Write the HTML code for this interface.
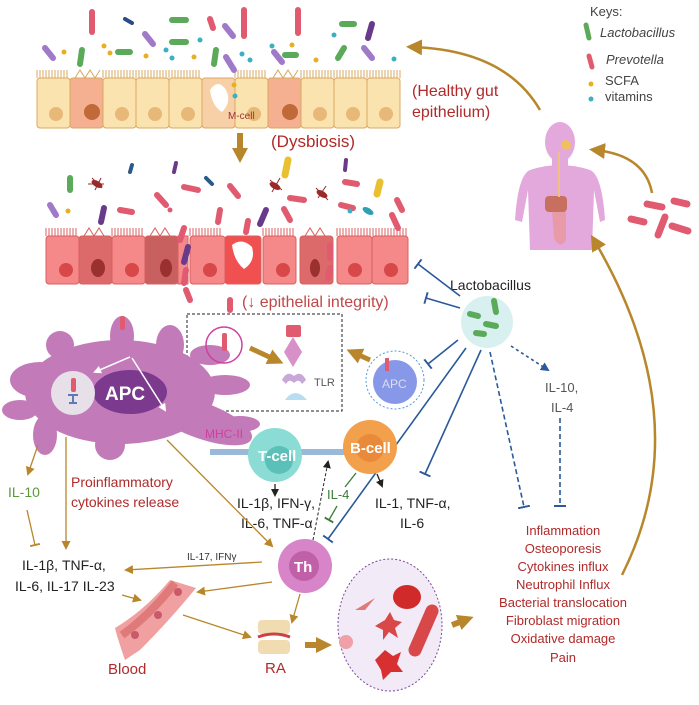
<!DOCTYPE html>
<html><head><meta charset="utf-8"><style>
html,body{margin:0;padding:0;background:#fff;}
svg{display:block;font-family:"Liberation Sans Narrow","Liberation Sans",sans-serif;}
</style></head><body>
<svg width="699" height="705" viewBox="0 0 699 705" xmlns="http://www.w3.org/2000/svg">
<defs>
<marker id="ab" markerUnits="userSpaceOnUse" markerWidth="9" markerHeight="9" refX="7" refY="4.5" orient="auto"><path d="M0,0 L9,4.5 L0,9 Z" fill="#b8862b"/></marker>
<marker id="abig" markerUnits="userSpaceOnUse" markerWidth="16" markerHeight="16" refX="10" refY="8" orient="auto"><path d="M0,0 L16,8 L0,16 Z" fill="#b8862b"/></marker>
<marker id="ak" markerUnits="userSpaceOnUse" markerWidth="8" markerHeight="8" refX="6" refY="4" orient="auto"><path d="M0,0 L8,4 L0,8 Z" fill="#222"/></marker>
<marker id="abl" markerUnits="userSpaceOnUse" markerWidth="9" markerHeight="9" refX="7" refY="4.5" orient="auto"><path d="M0,0 L9,4.5 L0,9 Z" fill="#2a5a9a"/></marker>
<marker id="tb" markerUnits="userSpaceOnUse" markerWidth="2" markerHeight="12" refX="1" refY="6" orient="auto"><rect x="0" y="0" width="2" height="12" fill="#2a5a9a"/></marker>
<marker id="tg" markerUnits="userSpaceOnUse" markerWidth="2" markerHeight="10" refX="1" refY="5" orient="auto"><rect x="0" y="0" width="2" height="10" fill="#3a7a3a"/></marker>
<marker id="tbr" markerUnits="userSpaceOnUse" markerWidth="2" markerHeight="10" refX="1" refY="5" orient="auto"><rect x="0" y="0" width="2" height="10" fill="#b8862b"/></marker>
<marker id="aw" markerUnits="userSpaceOnUse" markerWidth="8" markerHeight="8" refX="6" refY="4" orient="auto"><path d="M0,0 L8,4 L0,8 Z" fill="#fff"/></marker>
</defs>

<!-- top epithelium -->
<g stroke="#d9a860" stroke-width="1">
<rect x="37" y="78" width="33" height="50" rx="3" fill="#fbe3b0"/>
<rect x="70" y="78" width="33" height="50" rx="3" fill="#f4b090"/>
<rect x="103" y="78" width="33" height="50" rx="3" fill="#fbe3b0"/>
<rect x="136" y="78" width="33" height="50" rx="3" fill="#fbe3b0"/>
<rect x="169" y="78" width="33" height="50" rx="3" fill="#fbe3b0"/>
<rect x="202" y="78" width="33" height="50" rx="3" fill="#f8d0a8"/>
<rect x="235" y="78" width="33" height="50" rx="3" fill="#fbe3b0"/>
<rect x="268" y="78" width="33" height="50" rx="3" fill="#f4b090"/>
<rect x="301" y="78" width="33" height="50" rx="3" fill="#fbe3b0"/>
<rect x="334" y="78" width="33" height="50" rx="3" fill="#fbe3b0"/>
<rect x="367" y="78" width="33" height="50" rx="3" fill="#fbe3b0"/>
</g>
<path d="M37,78 V70 M40,78 V70 M43,78 V70 M46,78 V70 M49,78 V70 M52,78 V70 M55,78 V70 M58,78 V70 M61,78 V70 M64,78 V70 M67,78 V70 M103,78 V70 M106,78 V70 M109,78 V70 M112,78 V70 M115,78 V70 M118,78 V70 M121,78 V70 M124,78 V70 M127,78 V70 M130,78 V70 M133,78 V70 M136,78 V70 M139,78 V70 M142,78 V70 M145,78 V70 M148,78 V70 M151,78 V70 M154,78 V70 M157,78 V70 M160,78 V70 M163,78 V70 M166,78 V70 M169,78 V70 M172,78 V70 M175,78 V70 M178,78 V70 M181,78 V70 M184,78 V70 M187,78 V70 M190,78 V70 M193,78 V70 M196,78 V70 M199,78 V70 M235,78 V70 M238,78 V70 M241,78 V70 M244,78 V70 M247,78 V70 M250,78 V70 M253,78 V70 M256,78 V70 M259,78 V70 M262,78 V70 M265,78 V70 M301,78 V70 M304,78 V70 M307,78 V70 M310,78 V70 M313,78 V70 M316,78 V70 M319,78 V70 M322,78 V70 M325,78 V70 M328,78 V70 M331,78 V70 M334,78 V70 M337,78 V70 M340,78 V70 M343,78 V70 M346,78 V70 M349,78 V70 M352,78 V70 M355,78 V70 M358,78 V70 M361,78 V70 M364,78 V70 M367,78 V70 M370,78 V70 M373,78 V70 M376,78 V70 M379,78 V70 M382,78 V70 M385,78 V70 M388,78 V70 M391,78 V70 M394,78 V70 M397,78 V70 M400,78 V70" stroke="#d9a860" stroke-width="1"/>
<path d="M75,78 l5,-8 l5,8 l5,-8 l5,8 l5,-8 M273,78 l5,-8 l5,8 l5,-8 l5,8 l5,-8" stroke="#d9a860" fill="none"/>
<g fill="#e8b878"><circle cx="56" cy="114" r="7"/><circle cx="122" cy="114" r="7"/><circle cx="155" cy="114" r="7"/><circle cx="188" cy="114" r="7"/><circle cx="254" cy="114" r="7"/><circle cx="320" cy="114" r="7"/><circle cx="353" cy="114" r="7"/><circle cx="386" cy="114" r="7"/></g>
<g fill="#c06a3a"><circle cx="92" cy="112" r="8"/><circle cx="290" cy="112" r="8"/></g>
<path d="M210,90 q8,-12 16,0 q6,12 -4,22 q-10,-6 -12,-22z" fill="#fff"/>
<text x="228" y="119" font-size="10" fill="#a03030">M-cell</text>
<circle cx="234" cy="85" r="2.5" fill="#e8b020"/><circle cx="235" cy="96" r="2.5" fill="#3ab0c0"/>

<!-- top bacteria -->
<g stroke-linecap="round" stroke-width="6">
<line x1="92" y1="12" x2="92" y2="32" stroke="#e05a70"/>
<line x1="244" y1="10" x2="244" y2="36" stroke="#e05a70"/>
<line x1="298" y1="10" x2="298" y2="33" stroke="#e05a70"/>
<line x1="210" y1="19" x2="213" y2="28" stroke="#e05a70"/>
<line x1="172" y1="20" x2="186" y2="20" stroke="#5aaa5a"/>
<line x1="172" y1="42" x2="186" y2="42" stroke="#5aaa5a"/>
<line x1="118" y1="52" x2="130" y2="52" stroke="#5aaa5a"/>
<line x1="82" y1="50" x2="80" y2="64" stroke="#5aaa5a"/>
<line x1="216" y1="50" x2="214" y2="64" stroke="#5aaa5a"/>
<line x1="285" y1="55" x2="296" y2="55" stroke="#5aaa5a"/>
<line x1="342" y1="24" x2="354" y2="24" stroke="#5aaa5a"/>
<line x1="344" y1="48" x2="338" y2="58" stroke="#5aaa5a"/>
<line x1="45" y1="48" x2="53" y2="58" stroke="#a07ac8"/>
<line x1="145" y1="34" x2="153" y2="44" stroke="#a07ac8"/>
<line x1="225" y1="26" x2="233" y2="36" stroke="#a07ac8"/>
<line x1="226" y1="57" x2="234" y2="70" stroke="#a07ac8"/>
<line x1="274" y1="52" x2="282" y2="62" stroke="#a07ac8"/>
<line x1="364" y1="48" x2="372" y2="58" stroke="#a07ac8"/>
<line x1="372" y1="24" x2="368" y2="38" stroke="#6a3a8a"/>
<line x1="125" y1="19" x2="132" y2="23" stroke="#2a4a8a" stroke-width="4"/>
</g>
<g fill="#e8b020"><circle cx="64" cy="52" r="2.5"/><circle cx="104" cy="46" r="2.5"/><circle cx="110" cy="53" r="2.5"/><circle cx="146" cy="56" r="2.5"/><circle cx="194" cy="57" r="2.5"/><circle cx="292" cy="45" r="2.5"/><circle cx="316" cy="60" r="2.5"/></g>
<g fill="#3ab0c0"><circle cx="166" cy="50" r="2.5"/><circle cx="172" cy="58" r="2.5"/><circle cx="200" cy="40" r="2.5"/><circle cx="242" cy="54" r="2.5"/><circle cx="250" cy="60" r="2.5"/><circle cx="272" cy="46" r="2.5"/><circle cx="334" cy="35" r="2.5"/><circle cx="394" cy="59" r="2.5"/></g>

<text x="412" y="96" font-size="16" fill="#b02a2a">(Healthy gut</text>
<text x="412" y="117" font-size="16" fill="#b02a2a">epithelium)</text>
<line x1="240" y1="133" x2="240" y2="150" stroke="#b8862b" stroke-width="6"/>
<path d="M232,148 L248,148 L240,163 Z" fill="#b8862b"/>
<text x="271" y="147" font-size="17" fill="#b02a2a">(Dysbiosis)</text>

<!-- keys -->
<text x="590" y="16" font-size="13" fill="#444">Keys:</text>
<line x1="586" y1="25" x2="589" y2="38" stroke="#5aaa5a" stroke-width="5" stroke-linecap="round"/>
<text x="600" y="37" font-size="13" font-style="italic" fill="#444">Lactobacillus</text>
<line x1="589" y1="56" x2="592" y2="67" stroke="#e05a70" stroke-width="5" stroke-linecap="round"/>
<text x="606" y="64" font-size="13" font-style="italic" fill="#444">Prevotella</text>
<circle cx="591" cy="84" r="2.5" fill="#e8b020"/><text x="605" y="85" font-size="13" fill="#444">SCFA</text>
<circle cx="591" cy="99" r="2.5" fill="#3ab0c0"/><text x="605" y="101" font-size="13" fill="#444">vitamins</text>

<!-- human -->
<g fill="#e3a8dc">
<ellipse cx="560" cy="142" rx="15" ry="20"/>
<rect x="552" y="155" width="16" height="15"/>
<path d="M530,170 Q560,160 590,170 Q602,175 605,220 L600,222 L594,190 L592,250 L530,250 L528,190 L522,222 L515,220 Q518,175 530,170Z"/>
</g>
<path d="M554,238 Q560,250 566,240 L566,210 L552,210 Z" fill="#e89aa8"/>
<rect x="545" y="196" width="22" height="16" rx="4" fill="#c87060"/>
<rect x="558" y="152" width="2" height="45" fill="#f0c080"/>
<circle cx="566" cy="145" r="5" fill="#f0c060"/>
<g stroke="#e05a70" stroke-width="7" stroke-linecap="round">
<line x1="647" y1="204" x2="662" y2="207"/><line x1="674" y1="201" x2="687" y2="204"/>
<line x1="631" y1="219" x2="644" y2="222"/><line x1="665" y1="217" x2="658" y2="235"/>
<line x1="672" y1="226" x2="688" y2="231"/>
</g>
<path d="M540,110 Q505,50 412,47" fill="none" stroke="#b8862b" stroke-width="2.5" marker-end="url(#abig)"/>
<path d="M652,193 Q645,155 595,150" fill="none" stroke="#b8862b" stroke-width="2.5" marker-end="url(#abig)"/>
<path d="M622,575 Q700,420 594,240" fill="none" stroke="#b8862b" stroke-width="2.5" marker-end="url(#abig)"/>

<!-- bottom epithelium -->
<g stroke="#d86060" stroke-width="1">
<rect x="46" y="236" width="33" height="48" rx="3" fill="#f58888"/>
<rect x="79" y="236" width="33" height="48" rx="3" fill="#dc6a6a"/>
<rect x="112" y="236" width="33" height="48" rx="3" fill="#f58888"/>
<rect x="145" y="236" width="33" height="48" rx="3" fill="#c86060"/>
<rect x="178" y="236" width="10" height="48" fill="#f58888"/>
<rect x="190" y="236" width="35" height="48" rx="3" fill="#f58888"/>
<rect x="225" y="236" width="36" height="48" rx="3" fill="#f05050"/>
<rect x="263" y="236" width="33" height="48" rx="3" fill="#f58888"/>
<rect x="300" y="236" width="33" height="48" rx="3" fill="#dc6a6a"/>
<rect x="337" y="236" width="35" height="48" rx="3" fill="#f58888"/>
<rect x="372" y="236" width="36" height="48" rx="3" fill="#f58888"/>
</g>
<path d="M46,236 V228 M49,236 V228 M52,236 V228 M55,236 V228 M58,236 V228 M61,236 V228 M64,236 V228 M67,236 V228 M70,236 V228 M73,236 V228 M76,236 V228 M112,236 V228 M115,236 V228 M118,236 V228 M121,236 V228 M124,236 V228 M127,236 V228 M130,236 V228 M133,236 V228 M136,236 V228 M139,236 V228 M142,236 V228 M190,236 V228 M193,236 V228 M196,236 V228 M199,236 V228 M202,236 V228 M205,236 V228 M208,236 V228 M211,236 V228 M214,236 V228 M217,236 V228 M220,236 V228 M263,236 V228 M266,236 V228 M269,236 V228 M272,236 V228 M275,236 V228 M278,236 V228 M281,236 V228 M284,236 V228 M287,236 V228 M290,236 V228 M293,236 V228 M337,236 V228 M340,236 V228 M343,236 V228 M346,236 V228 M349,236 V228 M352,236 V228 M355,236 V228 M358,236 V228 M361,236 V228 M364,236 V228 M367,236 V228 M370,236 V228 M373,236 V228 M376,236 V228 M379,236 V228 M382,236 V228 M385,236 V228 M388,236 V228 M391,236 V228 M394,236 V228 M397,236 V228 M400,236 V228 M403,236 V228 M406,236 V228" stroke="#d86060"/>
<path d="M84,236 l5,-8 l5,8 l5,-8 l5,8 M150,236 l5,-8 l5,8 l5,-8 l5,8 M305,236 l5,-8 l5,8 l5,-8 l5,8" stroke="#d86060" fill="none"/>
<g fill="#d84848"><circle cx="66" cy="270" r="7"/><circle cx="132" cy="270" r="7"/><circle cx="210" cy="270" r="7"/><circle cx="283" cy="270" r="7"/><circle cx="355" cy="270" r="7"/><circle cx="391" cy="270" r="7"/></g>
<g fill="#9a3030"><ellipse cx="98" cy="268" rx="7" ry="9"/><ellipse cx="166" cy="268" rx="6" ry="9"/><ellipse cx="315" cy="268" rx="5" ry="9"/></g>
<path d="M232,245 q10,-8 20,2 q4,14 -8,22 q-10,-8 -12,-24z" fill="#fff"/>
<g stroke-linecap="round" stroke-width="6">
<line x1="70" y1="178" x2="70" y2="190" stroke="#5aaa5a"/>
<line x1="50" y1="205" x2="56" y2="215" stroke="#a07ac8"/>
<line x1="104" y1="208" x2="101" y2="222" stroke="#6a3a8a"/>
<line x1="120" y1="210" x2="132" y2="212" stroke="#e05a70"/>
<line x1="132" y1="165" x2="130" y2="172" stroke="#2a5a8a" stroke-width="4"/>
<line x1="176" y1="163" x2="174" y2="172" stroke="#6a3a8a" stroke-width="4"/>
<line x1="184" y1="187" x2="198" y2="190" stroke="#e05a70"/>
<line x1="157" y1="195" x2="166" y2="205" stroke="#e05a70"/>
<line x1="206" y1="178" x2="212" y2="184" stroke="#2a5a8a" stroke-width="4"/>
<line x1="230" y1="186" x2="238" y2="196" stroke="#e05a70"/>
<line x1="220" y1="210" x2="218" y2="222" stroke="#e05a70"/>
<line x1="248" y1="221" x2="246" y2="232" stroke="#e05a70"/>
<line x1="266" y1="210" x2="260" y2="224" stroke="#6a3a8a"/>
<line x1="284" y1="209" x2="290" y2="220" stroke="#e05a70"/>
<line x1="290" y1="198" x2="304" y2="200" stroke="#e05a70"/>
<line x1="288" y1="160" x2="285" y2="175" stroke="#e8c030" stroke-width="7"/>
<line x1="380" y1="182" x2="377" y2="194" stroke="#e8c030" stroke-width="7"/>
<line x1="346" y1="160" x2="345" y2="170" stroke="#6a3a8a" stroke-width="4"/>
<line x1="345" y1="182" x2="357" y2="184" stroke="#e05a70"/>
<line x1="341" y1="205" x2="353" y2="208" stroke="#e05a70"/>
<line x1="397" y1="200" x2="402" y2="210" stroke="#e05a70"/>
<line x1="392" y1="215" x2="398" y2="228" stroke="#e05a70"/>
<line x1="184" y1="228" x2="180" y2="240" stroke="#e05a70"/>
<line x1="188" y1="247" x2="184" y2="262" stroke="#6a3a8a"/>
<line x1="186" y1="270" x2="184" y2="283" stroke="#e05a70"/>
<line x1="186" y1="290" x2="190" y2="300" stroke="#e05a70"/>
<line x1="330" y1="245" x2="330" y2="258" stroke="#e05a70"/>
<line x1="330" y1="268" x2="328" y2="278" stroke="#e05a70"/>
<line x1="230" y1="300" x2="230" y2="310" stroke="#e05a70"/>
</g>
<g stroke="#9a2a2a" stroke-width="1">
<path d="M92,178 l10,10 M95,190 l6,-12 M88,184 l16,0 M270,180 l12,10 M272,192 l8,-14 M316,188 l12,12 M318,198 l8,-12"/>
</g>
<g fill="#9a2a2a"><ellipse cx="97" cy="184" rx="6" ry="3" transform="rotate(30 97 184)"/><ellipse cx="275" cy="186" rx="6" ry="3" transform="rotate(30 275 186)"/><ellipse cx="322" cy="194" rx="6" ry="3" transform="rotate(30 322 194)"/></g>
<ellipse cx="368" cy="211" rx="6" ry="3" fill="#30a0b0" transform="rotate(30 368 211)"/>
<circle cx="68" cy="211" r="2.5" fill="#e8b020"/><circle cx="350" cy="211" r="2.5" fill="#3ab0c0"/><circle cx="170" cy="210" r="2.5" fill="#e05a70"/>

<text x="242" y="307" font-size="16" fill="#c04848">(↓ epithelial integrity)</text>

<!-- Lactobacillus -->
<text x="450" y="290" font-size="14" fill="#222">Lactobacillus</text>
<circle cx="487" cy="322" r="26" fill="#d8f0f0"/>
<g stroke="#5aaa5a" stroke-width="6" stroke-linecap="round"><line x1="494" y1="301" x2="496" y2="312"/><line x1="470" y1="314" x2="478" y2="316"/><line x1="486" y1="324" x2="496" y2="326"/><line x1="476" y1="333" x2="484" y2="334"/></g>
<g stroke="#2a5a9a" stroke-width="1.6" fill="none">
<line x1="460" y1="296" x2="418" y2="264" marker-end="url(#tb)"/>
<line x1="460" y1="308" x2="426" y2="298" marker-end="url(#tb)"/>
<line x1="458" y1="340" x2="428" y2="364" marker-end="url(#tb)"/>
<line x1="466" y1="348" x2="328" y2="539" marker-end="url(#tb)"/>
<line x1="481" y1="350" x2="425" y2="474" marker-end="url(#tb)"/>
<line x1="490" y1="352" x2="524" y2="507" stroke-dasharray="5,3" marker-end="url(#tb)"/>
<line x1="511" y1="346" x2="548" y2="370" stroke-dasharray="3,3" marker-end="url(#abl)"/>
<line x1="560" y1="418" x2="560" y2="506" stroke-dasharray="5,3" marker-end="url(#tb)"/>
</g>
<text x="545" y="392" font-size="13" fill="#555">IL-10,</text>
<text x="551" y="412" font-size="13" fill="#555">IL-4</text>

<rect x="187" y="314" width="155" height="97" fill="none" stroke="#222" stroke-dasharray="3,2"/>

<!-- APC big -->
<g fill="#c27ab8">
<ellipse cx="120" cy="392" rx="95" ry="52"/>
<ellipse cx="40" cy="380" rx="30" ry="18"/>
<ellipse cx="200" cy="420" rx="55" ry="18" transform="rotate(20 200 420)"/>
<ellipse cx="122" cy="336" rx="12" ry="20"/>
<ellipse cx="170" cy="345" rx="14" ry="20"/>
<ellipse cx="210" cy="355" rx="20" ry="10"/>
<ellipse cx="60" cy="345" rx="14" ry="14"/>
<ellipse cx="20" cy="410" rx="18" ry="10"/>
<ellipse cx="45" cy="435" rx="12" ry="20"/>
<ellipse cx="110" cy="445" rx="15" ry="15"/>
<ellipse cx="225" cy="385" rx="25" ry="10"/>
<ellipse cx="240" cy="424" rx="20" ry="8"/>
</g>
<ellipse cx="130" cy="392" rx="37" ry="22" fill="#7b3a8e"/>
<text x="105" y="400" font-size="19" font-weight="bold" fill="#fff">APC</text>
<circle cx="73" cy="393" r="22" fill="#e8e0e8"/>
<rect x="71" y="378" width="5" height="14" rx="2" fill="#e05a70"/>
<path d="M68,395 h10 M73,395 v8 M69,403 h8" stroke="#5a7ab8" stroke-width="2"/>
<line x1="130" y1="357" x2="95" y2="372" stroke="#fff" stroke-width="1.5" marker-end="url(#aw)"/>
<line x1="132" y1="358" x2="165" y2="410" stroke="#fff" stroke-width="1.5" marker-end="url(#aw)"/>
<rect x="120" y="316" width="5" height="14" rx="2" fill="#e05a70"/>
<circle cx="224" cy="345" r="18" fill="none" stroke="#d040a0" stroke-width="1.5"/>
<rect x="222" y="333" width="5" height="18" rx="2" fill="#e05a70"/>
<line x1="250" y1="348" x2="278" y2="361" stroke="#b8862b" stroke-width="5" marker-end="url(#abig)"/>
<!-- TLR -->
<rect x="286" y="325" width="15" height="12" rx="2" fill="#e05a70"/>
<path d="M293,337 L302,352 L293,367 L284,352 Z" fill="#d890c8"/>
<path d="M282,380 q5,-10 12,-4 q7,-6 12,4 l-4,4 q-3,-6 -8,-1 q-5,-5 -8,1z" fill="#c8a8d8"/>
<path d="M285,400 q10,-14 22,0z" fill="#b8dcf0"/>
<text x="314" y="386" font-size="11" fill="#555">TLR</text>
<line x1="370" y1="360" x2="352" y2="352" stroke="#b8862b" stroke-width="5" marker-end="url(#abig)"/>
<!-- APC small -->
<circle cx="395" cy="380" r="29" fill="none" stroke="#5a9ad8" stroke-dasharray="2,2"/>
<circle cx="395" cy="382" r="22" fill="#8898e8"/>
<text x="382" y="388" font-size="12" fill="#dde">APC</text>
<rect x="385" y="358" width="4" height="13" fill="#e05a70"/>

<!-- T and B cells -->
<text x="205" y="438" font-size="12" fill="#d040a0">MHC-II</text>
<rect x="210" y="449" width="140" height="6" fill="#9ab8d8"/>
<circle cx="275" cy="455" r="27" fill="#8adcd4"/>
<circle cx="279" cy="460" r="14" fill="#5ac0b8"/>
<text x="258" y="461" font-size="15" font-weight="bold" fill="#fff">T-cell</text>
<circle cx="370" cy="447" r="27" fill="#f2a04c"/>
<circle cx="370" cy="448" r="14" fill="#e88a3a"/>
<text x="350" y="453" font-size="15" font-weight="bold" fill="#fff">B-cell</text>
<line x1="275" y1="484" x2="275" y2="495" stroke="#222" stroke-width="1.3" marker-end="url(#ak)"/>
<text x="237" y="508" font-size="14" fill="#222">IL-1β, IFN-γ,</text>
<text x="241" y="528" font-size="14" fill="#222">IL-6, TNF-α</text>
<line x1="377" y1="474" x2="382" y2="486" stroke="#222" stroke-width="1.3" marker-end="url(#ak)"/>
<text x="375" y="508" font-size="14" fill="#222">IL-1, TNF-α,</text>
<text x="400" y="528" font-size="14" fill="#222">IL-6</text>
<line x1="356" y1="473" x2="345" y2="487" stroke="#3a7a3a" stroke-width="1.3"/>
<text x="327" y="499" font-size="13" fill="#3a7a3a">IL-4</text>
<line x1="337" y1="506" x2="329" y2="520" stroke="#3a7a3a" stroke-width="1.3" marker-end="url(#tg)"/>
<line x1="313" y1="540" x2="328" y2="462" stroke="#222" stroke-dasharray="3,2" marker-end="url(#ak)"/>
<!-- Th -->
<circle cx="305" cy="566" r="27" fill="#d884c8"/>
<circle cx="304" cy="566" r="15" fill="#c060a8"/>
<text x="294" y="572" font-size="15" font-weight="bold" fill="#fff">Th</text>

<!-- APC outputs -->
<line x1="38" y1="445" x2="28" y2="474" stroke="#b8862b" stroke-width="1.3" marker-end="url(#ab)"/>
<text x="8" y="497" font-size="14" fill="#5a9a3a">IL-10</text>
<line x1="27" y1="510" x2="35" y2="545" stroke="#b8862b" stroke-width="1.3" marker-end="url(#tbr)"/>
<line x1="66" y1="437" x2="66" y2="548" stroke="#b8862b" stroke-width="1.3" marker-end="url(#ab)"/>
<text x="71" y="487" font-size="14" fill="#b02a2a">Proinflammatory</text>
<text x="71" y="507" font-size="14" fill="#b02a2a">cytokines release</text>
<line x1="167" y1="440" x2="272" y2="546" stroke="#b8862b" stroke-width="1.3" marker-end="url(#ab)"/>
<text x="22" y="570" font-size="14" fill="#222">IL-1β, TNF-α,</text>
<text x="15" y="591" font-size="14" fill="#222">IL-6, IL-17 IL-23</text>
<text x="187" y="560" font-size="10" fill="#333">IL-17, IFNγ</text>
<line x1="262" y1="562" x2="126" y2="570" stroke="#b8862b" stroke-width="1.3" marker-end="url(#ab)"/>
<line x1="272" y1="582" x2="198" y2="592" stroke="#b8862b" stroke-width="1.3" marker-end="url(#ab)"/>
<line x1="300" y1="594" x2="292" y2="622" stroke="#b8862b" stroke-width="1.3" marker-end="url(#ab)"/>
<line x1="122" y1="595" x2="140" y2="600" stroke="#b8862b" stroke-width="1.3" marker-end="url(#ab)"/>
<line x1="183" y1="615" x2="250" y2="637" stroke="#b8862b" stroke-width="1.3" marker-end="url(#ab)"/>

<!-- blood vessel -->
<path d="M170,580 L196,588 Q170,620 140,650 L125,660 Q118,640 115,628 Q145,610 170,580Z" fill="#f0a0a0"/>
<path d="M175,583 Q150,615 122,635" stroke="#e07a7a" stroke-width="8" fill="none"/>
<circle cx="178" cy="592" r="4" fill="#c85a6a"/><circle cx="158" cy="615" r="4" fill="#c85a6a"/><circle cx="135" cy="635" r="4" fill="#c85a6a"/>
<text x="108" y="674" font-size="15" fill="#b02a2a">Blood</text>
<!-- RA joint -->
<rect x="258" y="620" width="32" height="14" rx="4" fill="#f0dcb0"/>
<rect x="258" y="640" width="32" height="14" rx="4" fill="#f0dcb0"/>
<path d="M258,637 q16,-6 32,0" stroke="#d04040" stroke-width="3" fill="none"/>
<text x="265" y="673" font-size="15" fill="#b02a2a">RA</text>
<line x1="305" y1="645" x2="326" y2="645" stroke="#b8862b" stroke-width="6" marker-end="url(#abig)"/>
<!-- dotted circle -->
<ellipse cx="390" cy="625" rx="52" ry="66" fill="#f2eaf6" stroke="#7a4a9a" stroke-dasharray="2,2"/>
<ellipse cx="407" cy="597" rx="14" ry="12" fill="#d02a2a"/>
<line x1="432" y1="611" x2="415" y2="650" stroke="#d84848" stroke-width="13" stroke-linecap="round"/>
<path d="M355,610 l20,-12 -10,12z" fill="#e07a7a"/>
<path d="M385,620 l5,-8 4,8 8,2 -7,6 3,10 -9,-6 -6,8 0,-10 -8,-4z" fill="#d84848"/>
<path d="M375,660 l10,-10 8,6 8,-4 -4,12 6,8 -12,0 -8,8 -2,-10z" fill="#d83030"/>
<circle cx="346" cy="642" r="7" fill="#f0a0a8"/>
<line x1="452" y1="625" x2="468" y2="619" stroke="#b8862b" stroke-width="6" marker-end="url(#abig)"/>

<!-- list -->
<g font-size="13" fill="#b02a2a" text-anchor="middle">
<text x="563" y="535">Inflammation</text>
<text x="563" y="553">Osteoporesis</text>
<text x="563" y="571">Cytokines influx</text>
<text x="563" y="589">Neutrophil Influx</text>
<text x="563" y="607">Bacterial translocation</text>
<text x="563" y="625">Fibroblast migration</text>
<text x="563" y="643">Oxidative damage</text>
<text x="563" y="662">Pain</text>
</g>
</svg>
</body></html>
